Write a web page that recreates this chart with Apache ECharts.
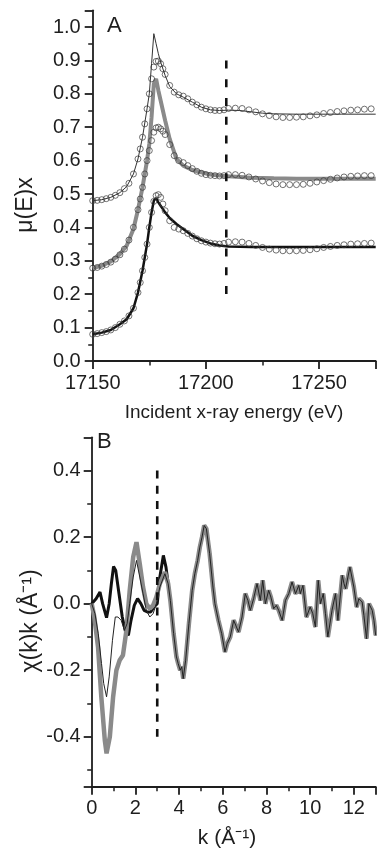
<!DOCTYPE html>
<html><head><meta charset="utf-8">
<script src="https://cdn.jsdelivr.net/npm/echarts@6/dist/echarts.min.js"></script>
<style>html,body{margin:0;padding:0;background:#fff}#c{width:377px;height:850px}</style>
</head><body><div id="c"></div>
<script>
// ---------- Panel A data ----------
const circE = [17150,17152,17154,17156,17158,17160,17162,17164,17166,17168,17170,17171,17172,17173,17174,17175,17176,17177,17178,17179,17180,17181,17182,17184,17186,17188,17190,17192,17194,17196,17198,17200,17202,17204,17206,17208,17210,17213,17216,17219,17222,17225,17228,17231,17234,17237,17240,17243,17246,17249,17252,17255,17258,17261,17264,17267,17270,17273];
const topCirc = [0.480,0.481,0.483,0.486,0.490,0.496,0.504,0.516,0.532,0.560,0.605,
  0.635,0.670,0.710,0.755,0.800,0.845,0.880,0.897,0.898,0.890,0.875,0.858,
  0.825,0.805,0.797,0.793,0.785,0.775,0.767,0.760,0.755,0.752,0.750,0.750,0.752,0.756,
  0.757,0.756,0.752,0.746,0.740,0.735,0.731,0.729,0.729,0.730,0.731,0.734,0.737,0.741,0.744,0.747,0.749,0.751,0.752,0.754,0.755];
const midCirc = [0.278,0.280,0.284,0.289,0.296,0.305,0.318,0.335,0.362,0.400,0.453,
  0.485,0.520,0.560,0.600,0.630,0.660,0.685,0.698,0.700,0.695,0.688,0.678,
  0.648,0.615,0.600,0.594,0.585,0.576,0.568,0.562,0.558,0.556,0.555,0.554,0.555,0.558,
  0.558,0.556,0.551,0.545,0.539,0.534,0.530,0.528,0.528,0.528,0.529,0.532,0.536,0.540,0.544,0.548,0.551,0.553,0.554,0.555,0.555];
const botCirc = [0.080,0.082,0.085,0.088,0.093,0.100,0.110,0.120,0.135,0.158,0.205,
  0.235,0.270,0.310,0.350,0.400,0.445,0.478,0.495,0.498,0.490,0.470,0.450,
  0.420,0.400,0.395,0.390,0.382,0.374,0.366,0.360,0.356,0.353,0.351,0.350,0.352,0.356,
  0.357,0.356,0.352,0.346,0.340,0.335,0.332,0.330,0.330,0.330,0.331,0.333,0.336,0.340,0.343,0.346,0.348,0.350,0.351,0.352,0.353];
const fitE = [17150,17154,17158,17162,17165,17168,17170,17172,17174,17175,17176,17177,17178,17179,17180,17182,17184,17187,17190,17194,17198,17202,17206,17210,17215,17220,17225,17230,17240,17250,17260,17275];
const topFit = [0.480,0.483,0.490,0.504,0.522,0.560,0.605,0.670,0.755,0.800,0.890,0.980,0.950,0.920,0.895,0.855,0.822,0.800,0.790,0.775,0.760,0.752,0.750,0.751,0.750,0.746,0.742,0.740,0.739,0.739,0.739,0.739];
const midFit = [0.278,0.285,0.298,0.320,0.345,0.395,0.453,0.520,0.600,0.650,0.730,0.830,0.845,0.810,0.780,0.720,0.665,0.605,0.585,0.572,0.565,0.558,0.555,0.553,0.551,0.549,0.548,0.547,0.546,0.546,0.546,0.546];
const botFit = [0.080,0.085,0.093,0.110,0.125,0.158,0.205,0.270,0.350,0.400,0.445,0.480,0.488,0.475,0.465,0.445,0.428,0.410,0.395,0.375,0.362,0.352,0.346,0.343,0.342,0.341,0.341,0.341,0.341,0.341,0.341,0.341];
const dashAE = [17209,17209];
const dashAY = [0.9,0.2];

// ---------- Panel B data ----------
const kBlackHead = [0,0.2,0.38,0.5,0.68,0.8,0.9,1.0,1.1,1.25,1.4,1.55,1.68,1.8,1.95,2.1,2.25,2.4,2.55,2.7,2.85,3.0,3.12,3.28,3.4,3.5];
const chiBlackHead = [0,0.015,0.035,0.0,-0.042,0.0,0.06,0.112,0.1,0.03,-0.04,-0.085,-0.095,-0.05,-0.005,0.015,0.0,-0.02,-0.025,-0.025,-0.01,0.0,0.08,0.145,0.11,0.06];
const kGreyHead = [0,0.12,0.29,0.44,0.6,0.68,0.83,0.98,1.13,1.28,1.43,1.59,1.74,1.9,2.05,2.2,2.35,2.5,2.66,2.81,2.96,3.12,3.35,3.5];
const chiGreyHead = [0,-0.04,-0.13,-0.28,-0.41,-0.45,-0.40,-0.28,-0.20,-0.17,-0.155,-0.08,0.04,0.14,0.185,0.12,0.05,0.0,-0.015,-0.005,0.02,0.06,0.095,0.06];
const kThinHead = [0,0.15,0.3,0.45,0.55,0.68,0.8,0.95,1.08,1.2,1.35,1.5,1.62,1.74,1.9,2.05,2.2,2.35,2.5,2.66,2.81,2.96,3.12,3.35,3.5];
const chiThinHead = [0,-0.03,-0.09,-0.18,-0.24,-0.28,-0.22,-0.11,-0.04,-0.04,-0.05,-0.08,-0.06,0.0,0.08,0.13,0.08,0.03,-0.02,-0.04,-0.03,0.0,0.05,0.09,0.06];
const kTail = [3.6,3.75,3.88,3.96,4.05,4.12,4.19,4.3,4.45,4.6,4.72,4.85,4.95,5.05,5.15,5.25,5.4,5.55,5.64,5.8,5.95,6.1,6.2,6.34,6.5,6.72,6.88,7.03,7.15,7.26,7.41,7.57,7.72,7.83,7.95,8.1,8.2,8.33,8.45,8.56,8.72,8.87,9.02,9.17,9.33,9.48,9.55,9.67,9.83,10.0,10.12,10.24,10.37,10.47,10.6,10.7,10.81,11.0,11.16,11.27,11.47,11.55,11.62,11.82,12.0,12.13,12.23,12.38,12.46,12.58,12.69,12.84,12.92,13.0];
const chiTail = [0.01,-0.09,-0.16,-0.18,-0.20,-0.19,-0.225,-0.17,-0.06,0.04,0.09,0.13,0.17,0.2,0.235,0.225,0.15,0.05,0.0,-0.05,-0.09,-0.145,-0.12,-0.10,-0.05,-0.085,-0.04,0.03,0.01,-0.02,0.015,0.06,0.01,0.07,0.0,0.04,0.02,-0.015,-0.005,-0.02,-0.05,0.01,0.03,0.065,0.03,0.055,0.03,0.055,-0.04,-0.01,-0.03,-0.07,0.07,0.0,0.03,-0.03,-0.10,-0.02,0.03,-0.05,0.085,0.06,0.045,0.11,0.05,-0.01,0.015,0.005,-0.035,-0.105,0.0,-0.02,-0.05,-0.095];
const dashBK = [3,3];
const dashBY = [0.4,-0.4];

// ---------- build ----------
const zip = (xs, ys) => xs.map((x, i) => [x, ys[i]]);
const withTail = (ks, vs) => zip(ks, vs).concat(zip(kTail, chiTail));
const FONT = 'Liberation Sans, Arial, sans-serif';
const INK = '#1e1e1e';
const GREY = '#8a8a8a';

function axisCommon() {
  return {
    axisLine: { show: true, onZero: false, lineStyle: { color: INK, width: 1.8 } },
    axisTick: { show: true, inside: false, length: 8, lineStyle: { color: INK, width: 1.8 } },
    minorTick: { show: true, splitNumber: 2, length: 4.5, lineStyle: { color: INK, width: 1.5 } },
    splitLine: { show: false },
    minorSplitLine: { show: false },
    axisLabel: { color: INK, fontSize: 20, fontFamily: FONT, showMaxLabel: false }
  };
}

const xA = Object.assign(axisCommon(), { gridIndex: 0, type: 'value', min: 17150, max: 17275, interval: 50 });
xA.axisLabel = Object.assign({}, xA.axisLabel, { margin: 12, formatter: v => String(v) });
const yA = Object.assign(axisCommon(), { gridIndex: 0, type: 'value', min: 0, max: 1.05, interval: 0.1 });
yA.axisLabel = Object.assign({}, yA.axisLabel, { margin: 12, formatter: v => v.toFixed(1) });
const xB = Object.assign(axisCommon(), { gridIndex: 1, type: 'value', min: 0, max: 13, interval: 2 });
xB.axisLabel = Object.assign({}, xB.axisLabel, { margin: 12, formatter: v => String(v) });
const yB = Object.assign(axisCommon(), { gridIndex: 1, type: 'value', min: -0.55, max: 0.5, splitNumber: 5 });
yB.axisLabel = Object.assign({}, yB.axisLabel, { margin: 11, showMinLabel: false, formatter: v => v.toFixed(1) });

const lineS = (xi, data, color, width, extra) => Object.assign({
  type: 'line', xAxisIndex: xi, yAxisIndex: xi, data, showSymbol: false, symbol: 'none',
  lineStyle: { color, width }, itemStyle: { color }, silent: true, z: 2
}, extra || {});
const circS = (data) => ({
  type: 'scatter', xAxisIndex: 0, yAxisIndex: 0, data, symbol: 'circle', symbolSize: 6,
  itemStyle: { color: 'rgba(0,0,0,0)', borderColor: '#3a3a3a', borderWidth: 0.9 }, silent: true, z: 4
});

const option = {
  animation: false,
  backgroundColor: '#fff',
  textStyle: { fontFamily: FONT },
  grid: [
    { left: 92.7, top: 10.3, width: 283, height: 350.7, containLabel: false },
    { left: 91.7, top: 437.3, width: 284, height: 349.4, containLabel: false }
  ],
  xAxis: [xA, xB],
  yAxis: [yA, yB],
  series: [
    lineS(0, zip(fitE, midFit), GREY, 4),
    lineS(0, zip(fitE, botFit), '#111', 2.5),
    lineS(0, zip(fitE, topFit), '#333', 1),
    circS(zip(circE, topCirc)),
    circS(zip(circE, midCirc)),
    circS(zip(circE, botCirc)),
    lineS(0, zip(dashAE, dashAY), '#111', 2.5, { lineStyle: { color: '#111', width: 2.6, type: [8, 10.8] }, z: 5 }),
    lineS(1, withTail(kBlackHead, chiBlackHead), '#111', 3),
    lineS(1, withTail(kGreyHead, chiGreyHead), GREY, 4.5),
    lineS(1, withTail(kThinHead, chiThinHead), '#222', 1),
    lineS(1, zip(dashBK, dashBY), '#111', 2.5, { lineStyle: { color: '#111', width: 2.6, type: [8, 7.2] }, z: 5 })
  ],
  graphic: [
    { type: 'text', left: 107, top: 15, style: { text: 'A', fontSize: 22, fontFamily: FONT, fill: INK } },
    { type: 'text', left: 97, top: 431, style: { text: 'B', fontSize: 22, fontFamily: FONT, fill: INK } },
    { type: 'text', x: 26, y: 205, rotation: Math.PI / 2,
      style: { text: 'μ(E)x', fontSize: 23, fontFamily: FONT, fill: INK, align: 'center', verticalAlign: 'middle' } },
    { type: 'text', x: 234, y: 413,
      style: { text: 'Incident x-ray energy (eV)', fontSize: 19, fontFamily: FONT, fill: INK, align: 'center', verticalAlign: 'middle' } },
    { type: 'text', x: 31, y: 621, rotation: Math.PI / 2,
      style: { text: 'χ(k)k (Å⁻¹)', fontSize: 23, fontFamily: FONT, fill: INK, align: 'center', verticalAlign: 'middle' } },
    { type: 'text', x: 227, y: 838,
      style: { text: 'k (Å⁻¹)', fontSize: 21, fontFamily: FONT, fill: INK, align: 'center', verticalAlign: 'middle' } }
  ]
};
const chart = echarts.init(document.getElementById('c'), null, { renderer: 'canvas' });
chart.setOption(option);
</script></body></html>
